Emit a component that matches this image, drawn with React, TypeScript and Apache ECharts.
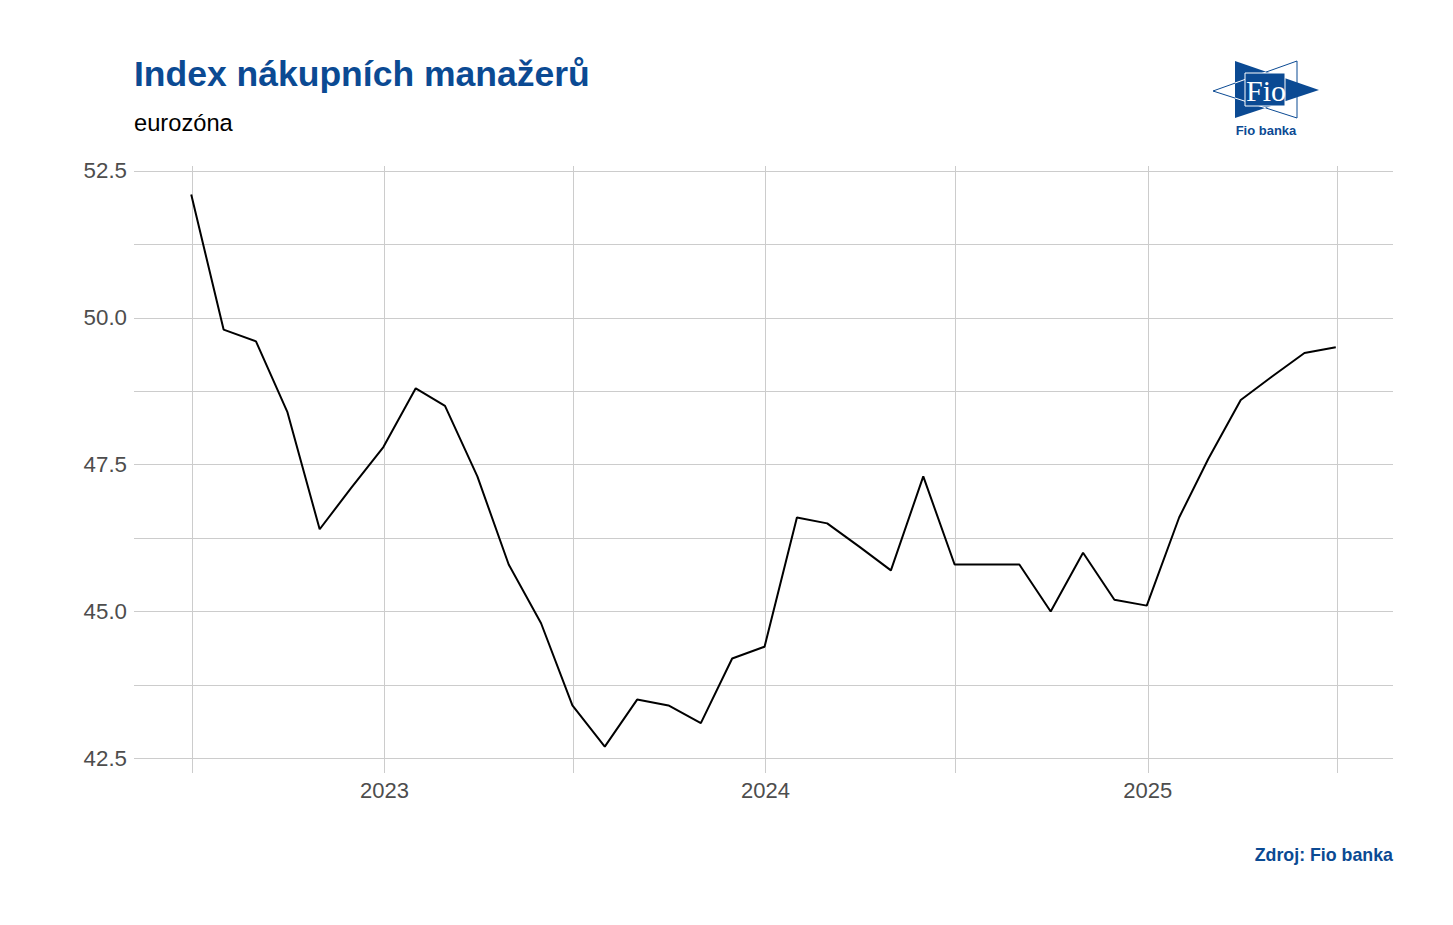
import React, { useEffect, useRef } from "react";
import * as echarts from "echarts";

// Reference month-end dates and PMI values (eurozone manufacturing)
const dates: string[] = [
  "2022-06-30", "2022-07-31", "2022-08-31", "2022-09-30", "2022-10-31", "2022-11-30", "2022-12-31",
  "2023-01-31", "2023-02-28", "2023-03-31", "2023-04-30", "2023-05-31", "2023-06-30",
  "2023-07-31", "2023-08-31", "2023-09-30", "2023-10-31", "2023-11-30", "2023-12-31",
  "2024-01-31", "2024-02-29", "2024-03-31", "2024-04-30", "2024-05-31", "2024-06-30",
  "2024-07-31", "2024-08-31", "2024-09-30", "2024-10-31", "2024-11-30", "2024-12-31",
  "2025-01-31", "2025-02-28", "2025-03-31", "2025-04-30", "2025-05-31", "2025-06-30",
];
const pmi: number[] = [
  52.1, 49.8, 49.6, 48.4, 46.4, 47.1, 47.8,
  48.8, 48.5, 47.3, 45.8, 44.8, 43.4,
  42.7, 43.5, 43.4, 43.1, 44.2, 44.4,
  46.6, 46.5, 46.1, 45.7, 47.3, 45.8,
  45.8, 45.8, 45.0, 46.0, 45.2, 45.1,
  46.6, 47.6, 48.6, 49.0, 49.4, 49.5,
];
const xLabelDates: string[] = ["2023-01-01", "2024-01-01", "2025-01-01"];
const xGridDates: string[] = [
  "2022-07-01", "2023-01-01", "2023-07-01", "2024-01-01", "2024-07-01", "2025-01-01", "2025-07-01",
];
const yLabels: number[] = [42.5, 45, 47.5, 50, 52.5];
const yGrid: number[] = [42.5, 43.75, 45, 46.25, 47.5, 48.75, 50, 51.25, 52.5];

const TITLE = "Index nákupních manažerů";
const SUBTITLE = "eurozóna";
const CAPTION = "Zdroj: Fio banka";

const BLUE = "#0B4A93";
const FONT = "'Liberation Sans', Arial, sans-serif";

function ts(d: string): number {
  const [y, m, dd] = d.split("-").map(Number);
  return Date.UTC(y, m - 1, dd);
}

export default function App() {
  const ref = useRef<HTMLDivElement>(null);
  useEffect(() => {
    if (!ref.current) return;
    const chart = echarts.init(ref.current, undefined, { renderer: "svg" });
    const xs = dates.map(ts);
    const span = xs[xs.length - 1] - xs[0];
    const xMin = xs[0] - 0.05 * span;
    const xMax = xs[xs.length - 1] + 0.05 * span;

    const option: any = {
      animation: false,
      backgroundColor: "#ffffff",
      grid: { left: 134, right: 60, top: 166, bottom: 152, containLabel: false },
      xAxis: {
        type: "value",
        min: xMin,
        max: xMax,
        axisLine: { show: false },
        axisTick: { show: false, customValues: xGridDates.map(ts) },
        splitLine: { show: true, lineStyle: { color: "#cccccc", width: 1 } },
        axisLabel: {
          customValues: xLabelDates.map(ts),
          formatter: (v: number) => String(new Date(v).getUTCFullYear()),
          color: "#4d4d4d",
          fontSize: 22,
          fontFamily: FONT,
          margin: 6,
        },
      },
      yAxis: {
        type: "value",
        min: 42.25,
        max: 52.585,
        axisLine: { show: false },
        axisTick: { show: false, customValues: yGrid },
        splitLine: { show: true, lineStyle: { color: "#cccccc", width: 1 } },
        axisLabel: {
          customValues: yLabels,
          formatter: (v: number) => v.toFixed(1),
          color: "#4d4d4d",
          fontSize: 22.3,
          fontFamily: FONT,
          margin: 7,
        },
      },
      series: [
        {
          type: "line",
          data: xs.map((x, i) => [x, pmi[i]]),
          showSymbol: false,
          lineStyle: { color: "#000000", width: 2 },
          itemStyle: { color: "#000000" },
        },
      ],
      graphic: [
        {
          type: "text",
          left: 134,
          top: 56,
          style: { text: TITLE, font: `bold 35.5px ${FONT}`, fill: BLUE },
        },
        {
          type: "text",
          left: 134,
          top: 111,
          style: { text: SUBTITLE, font: `23.7px ${FONT}`, fill: "#000000" },
        },
        {
          type: "text",
          right: 60,
          top: 846,
          style: { text: CAPTION, font: `bold 17.8px ${FONT}`, fill: BLUE },
        },
        // Logo
        {
          type: "polygon",
          shape: { points: [[1297, 61], [1213, 91], [1297, 118]] },
          style: { fill: "none", stroke: BLUE, lineWidth: 1 },
        },
        {
          type: "polygon",
          shape: { points: [[1235, 61], [1319, 90], [1235, 118]] },
          style: { fill: BLUE },
        },
        {
          type: "line",
          shape: { x1: 1235, y1: 83, x2: 1266, y2: 72 },
          style: { stroke: "#ffffff", lineWidth: 1 },
        },
        {
          type: "line",
          shape: { x1: 1235, y1: 98, x2: 1266, y2: 108 },
          style: { stroke: "#ffffff", lineWidth: 1 },
        },
        {
          type: "rect",
          shape: { x: 1245, y: 73, width: 40, height: 33 },
          style: { stroke: "#ffffff", lineWidth: 1, fill: BLUE },
        },
        {
          type: "text",
          x: 1266,
          y: 90,
          style: {
            text: "Fio",
            font: `30px 'Liberation Serif', 'DejaVu Serif', serif`,
            fill: "#ffffff",
            align: "center",
            verticalAlign: "middle",
          },
        },
        {
          type: "text",
          x: 1266,
          y: 130,
          style: {
            text: "Fio banka",
            font: `bold 13px ${FONT}`,
            fill: BLUE,
            align: "center",
            verticalAlign: "middle",
          },
        },
      ],
    };
    chart.setOption(option);
    return () => chart.dispose();
  }, []);
  return (
    <div
      ref={ref}
      style={{ position: "absolute", left: 0, top: 0, width: 1453, height: 925 }}
    />
  );
}
